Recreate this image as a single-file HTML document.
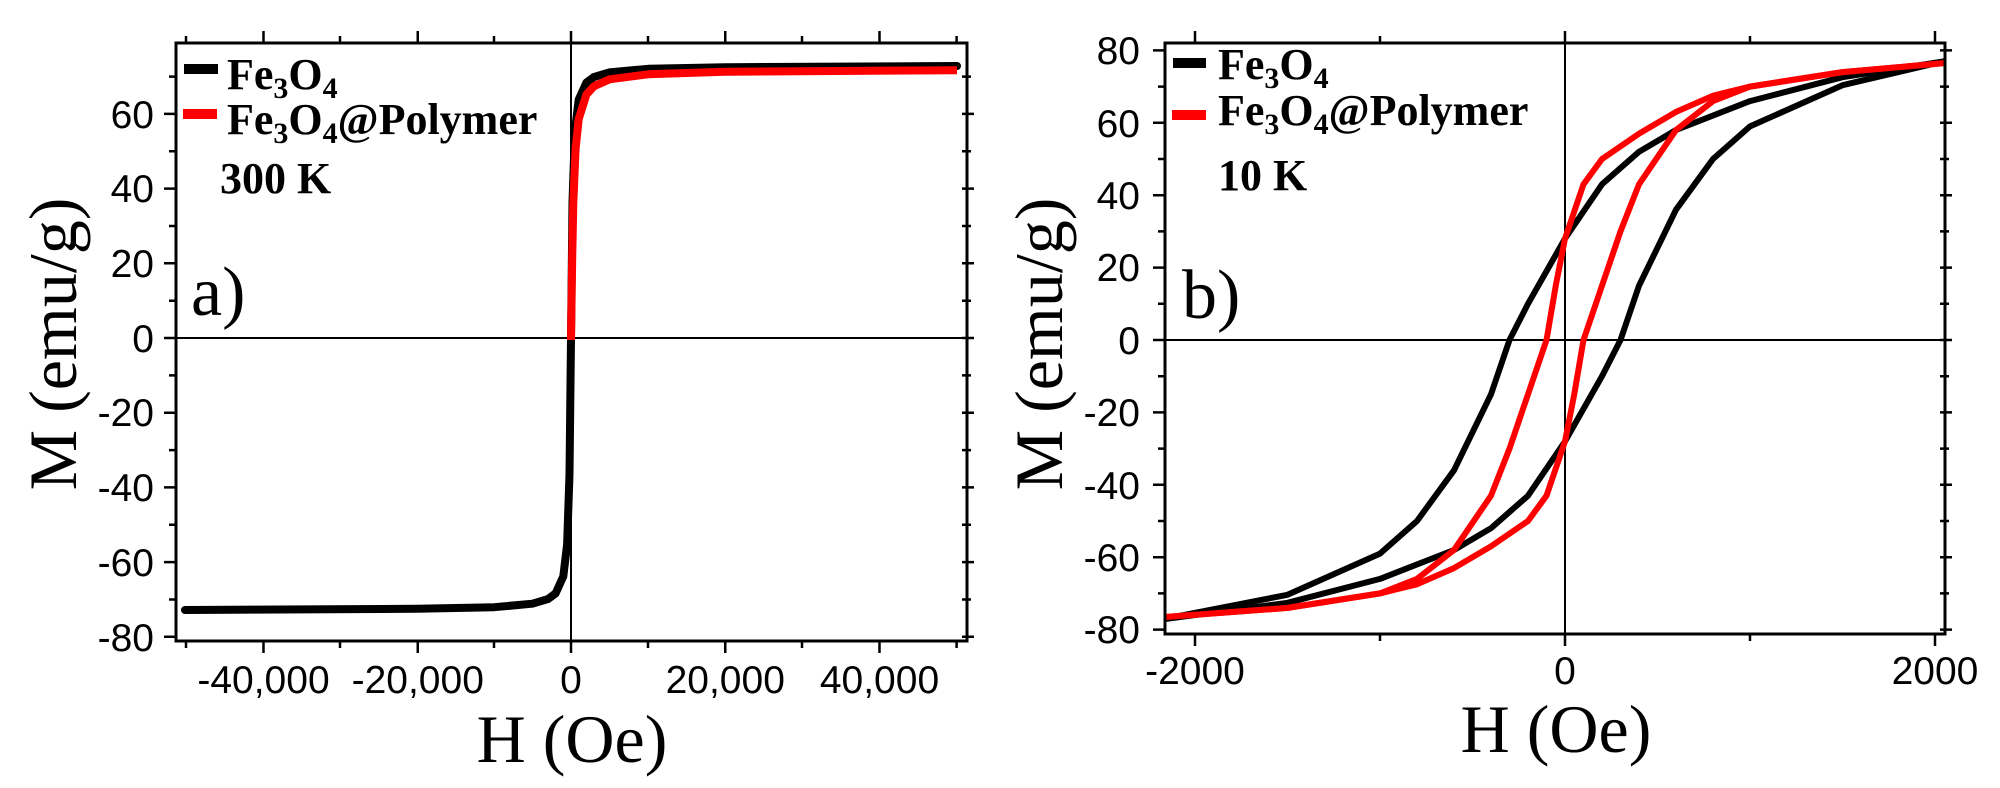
<!DOCTYPE html>
<html><head><meta charset="utf-8"><style>
html,body{margin:0;padding:0;background:#fff;}
svg{display:block;}
.tk{font-family:"Liberation Sans",sans-serif;font-size:39px;fill:#000;}
.ti{font-family:"Liberation Serif",serif;font-size:68px;fill:#000;}
.lg{font-family:"Liberation Serif",serif;font-size:44px;font-weight:bold;fill:#000;}
</style></head><body>
<svg width="2000" height="788" viewBox="0 0 2000 788" xmlns="http://www.w3.org/2000/svg">
<rect width="2000" height="788" fill="#fff"/>

<!-- ===== Left panel ===== -->
<g stroke="#000" fill="none">
 <line x1="176" y1="338" x2="967" y2="338" stroke-width="2"/>
 <line x1="571" y1="43" x2="571" y2="641" stroke-width="2"/>
 <g stroke-width="2.5">
  <path d="M263.5 641v12M417.75 641v12M571 641v12M725.25 641v12M879.5 641v12"/>
  <path d="M186 641v7M340 641v7M494 641v7M648 641v7M802 641v7M956.6 641v7"/>
  <path d="M263.5 43v-12M417.75 43v-12M571 43v-12M725.25 43v-12M879.5 43v-12"/>
  <path d="M186 43v-7M340 43v-7M494 43v-7M648 43v-7M802 43v-7M956.6 43v-7"/>
  <path d="M176 636.8h-12M176 562.1h-12M176 487.4h-12M176 412.7h-12M176 338h-12M176 263.3h-12M176 188.6h-12M176 113.9h-12"/>
  <path d="M176 599.5h-7M176 524.8h-7M176 450.1h-7M176 375.4h-7M176 300.7h-7M176 226h-7M176 151.3h-7M176 76.6h-7"/>
  <path d="M962 636.8h12M962 562.1h12M962 487.4h12M962 412.7h12M962 338h12M962 263.3h12M962 188.6h12M962 113.9h12"/>
  <path d="M962 599.5h9M962 524.8h9M962 450.1h9M962 375.4h9M962 300.7h9M962 226h9M962 151.3h9M962 76.6h9"/>
 </g>
 <polyline stroke-width="8" stroke-linejoin="round" stroke-linecap="round" points="185,610 417,608.8 494,607.2 532.4,603.7 547.9,599.1 555.6,593.4 563.3,576.4 567.1,544.6 569.5,474.3 571,338 572.5,201.7 574.9,131.4 578.7,99.6 586.4,82.6 594.1,76.9 609.6,72.3 648,68.8 725,67.2 957,66"/>
 <polyline stroke="#f00" stroke-width="8" stroke-linejoin="round" points="571,340 572.2,258.6 573.3,203.5 575.6,148.6 578.7,119.1 586.4,94.5 594.1,86.2 609.6,79.3 648,74.3 725,71.7 957,70.2"/>
 <rect x="176" y="43" width="791" height="598" stroke-width="3"/>
</g>
<g class="tk" text-anchor="end">
 <text x="154" y="651">-80</text><text x="154" y="576">-60</text><text x="154" y="501">-40</text><text x="154" y="426">-20</text>
 <text x="154" y="352">0</text><text x="154" y="277">20</text><text x="154" y="202">40</text><text x="154" y="128">60</text>
</g>
<g class="tk" text-anchor="middle">
 <text x="263.5" y="693">-40,000</text><text x="417.75" y="693">-20,000</text><text x="571" y="693">0</text>
 <text x="725.25" y="693">20,000</text><text x="879.5" y="693">40,000</text>
</g>
<text class="ti" x="572" y="762" text-anchor="middle">H (Oe)</text>
<text class="ti" transform="translate(76,344) rotate(-90)" text-anchor="middle">M (emu/g)</text>
<text class="ti" x="191" y="315" style="font-size:70px">a)</text>
<rect x="184" y="64" width="34" height="10" fill="#000"/>
<rect x="183" y="109" width="34" height="10" fill="#f00"/>
<text class="lg" x="227" y="89">Fe<tspan font-size="30" dy="9">3</tspan><tspan dy="-9">O</tspan><tspan font-size="30" dy="9">4</tspan></text>
<text class="lg" x="227" y="134">Fe<tspan font-size="30" dy="9">3</tspan><tspan dy="-9">O</tspan><tspan font-size="30" dy="9">4</tspan><tspan dy="-9">@Polymer</tspan></text>
<text class="lg" x="220" y="193">300 K</text>

<!-- ===== Right panel ===== -->
<g stroke="#000" fill="none">
 <line x1="1165" y1="340" x2="1945" y2="340" stroke-width="2"/>
 <line x1="1565" y1="43" x2="1565" y2="634" stroke-width="2"/>
 <g stroke-width="2.5">
  <path d="M1195 634v12M1565 634v12M1935 634v12M1380 634v7M1750 634v7"/>
  <path d="M1195 43v-12M1565 43v-12M1935 43v-12M1380 43v-7M1750 43v-7"/>
  <path d="M1165 629.6h-12M1165 557.2h-12M1165 484.8h-12M1165 412.4h-12M1165 340h-12M1165 267.6h-12M1165 195.2h-12M1165 122.8h-12M1165 50.4h-12"/>
  <path d="M1165 593.4h-7M1165 521h-7M1165 448.6h-7M1165 376.2h-7M1165 303.8h-7M1165 231.4h-7M1165 159h-7M1165 86.6h-7"/>
  <path d="M1940 629.6h12M1940 557.2h12M1940 484.8h12M1940 412.4h12M1940 340h12M1940 267.6h12M1940 195.2h12M1940 122.8h12M1940 50.4h12"/>
  <path d="M1940 593.4h9M1940 521h9M1940 448.6h9M1940 376.2h9M1940 303.8h9M1940 231.4h9M1940 159h9M1940 86.6h9"/>
 </g>
 <g stroke-width="6" stroke-linejoin="round">
  <polyline points="1944,61.3 1842.5,77.2 1750,101.1 1676,130 1639,151.8 1602,184.3 1565,238.6 1528,303.8 1509.5,340 1491,394.3 1454,470.3 1417,521 1380,553.6 1287.5,594.8 1165,618.7"/>
  <polyline points="1165,619 1287.5,602.8 1380,578.9 1454,550 1491,528.2 1528,495.7 1565,441.4 1602,376.2 1620.5,340 1639,285.7 1676,209.7 1713,159 1750,126.4 1842.5,85.2 1944,61.3"/>
 </g>
 <g stroke="#f00" stroke-width="6" stroke-linejoin="round">
  <polyline points="1944,63.1 1842.5,72.1 1750,86.6 1713,95.7 1676,111.9 1639,133.7 1602,159 1583.5,184.3 1565,238.6 1555.75,285.7 1546.5,340 1528,394.3 1509.5,448.6 1491,495.7 1454,550 1417,578.9 1380,593.4 1287.5,607.9 1165,617"/>
  <polyline points="1165,617 1287.5,607.9 1380,593.4 1417,584.3 1454,568.1 1491,546.3 1528,521 1546.5,495.7 1565,441.4 1574.25,394.3 1583.5,340 1602,285.7 1620.5,231.4 1639,184.3 1676,130 1713,101.1 1750,86.6 1842.5,72.1 1944,63.1"/>
 </g>
 <rect x="1165" y="43" width="780" height="591" stroke-width="3"/>
</g>
<g class="tk" text-anchor="end">
 <text x="1140" y="643">-80</text><text x="1140" y="571">-60</text><text x="1140" y="499">-40</text><text x="1140" y="426">-20</text>
 <text x="1140" y="354">0</text><text x="1140" y="281">20</text><text x="1140" y="209">40</text><text x="1140" y="137">60</text><text x="1140" y="64">80</text>
</g>
<g class="tk" text-anchor="middle">
 <text x="1195" y="684">-2000</text><text x="1565" y="684">0</text><text x="1935" y="684">2000</text>
</g>
<text class="ti" x="1556" y="752" text-anchor="middle">H (Oe)</text>
<text class="ti" transform="translate(1062,344) rotate(-90)" text-anchor="middle">M (emu/g)</text>
<text class="ti" x="1182" y="318" style="font-size:70px">b)</text>
<rect x="1173" y="58" width="33" height="10" fill="#000"/>
<rect x="1172" y="110" width="34" height="10" fill="#f00"/>
<text class="lg" x="1218" y="79">Fe<tspan font-size="30" dy="9">3</tspan><tspan dy="-9">O</tspan><tspan font-size="30" dy="9">4</tspan></text>
<text class="lg" x="1218" y="125">Fe<tspan font-size="30" dy="9">3</tspan><tspan dy="-9">O</tspan><tspan font-size="30" dy="9">4</tspan><tspan dy="-9">@Polymer</tspan></text>
<text class="lg" x="1218" y="190">10 K</text>
</svg>
</body></html>
